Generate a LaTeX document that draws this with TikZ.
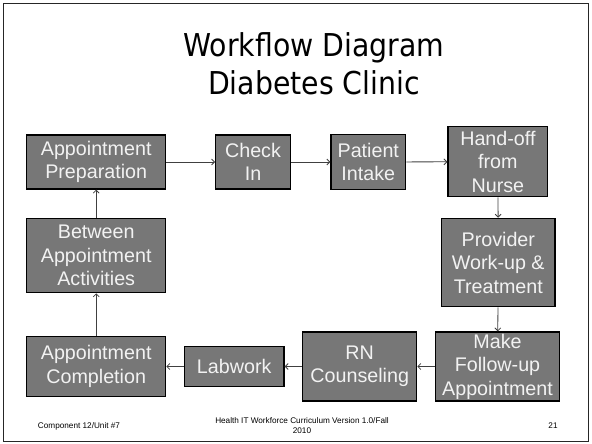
\documentclass[tikz,border=0pt]{standalone}
\usepackage{fontspec}
\setmainfont{Liberation Sans}
\newfontfamily\titlefont{DejaVu Sans Condensed}
\usetikzlibrary{arrows.meta, positioning}

\definecolor{stagefill}{HTML}{777777}
\definecolor{stagetext}{HTML}{F2F2F2}

\tikzset{
	stage/.style={draw=black, line width=1.2pt, fill=stagefill, text=stagetext, align=center, inner sep=0pt, font=\fontsize{19.7}{23.5}\selectfont},
	flow/.style={draw=black!75, line width=0.8pt, -{Straight Barb[length=3pt,width=6pt]}},
	foot/.style={font=\fontsize{8.2}{10}\selectfont, align=center}
}

\begin{document}
\begin{tikzpicture}[x=1pt, y=-1pt]
			\useasboundingbox (0,0) rectangle (592,444);
			\draw[line width=1.6pt, black!85] (3.5,3.5) rectangle (588.5,441.5);
			% title
			\node[anchor=base] (title) at (314,56.7) {\titlefont\fontsize{31.5}{38}\selectfont Workflow Diagram};
			\node[anchor=base] (subtitle) at (314,95) {\titlefont\fontsize{31.5}{38}\selectfont Diabetes Clinic};
			% top row
			\node[stage, minimum width=139pt, minimum height=54pt] (prep) at (96.2,162) {Appointment\\Preparation};
			\node[stage, minimum width=74.6pt, minimum height=54pt] (check) at (253,162) {Check\\In};
			\node[stage, minimum width=74.7pt, minimum height=55pt] (intake) at (368.3,162) {Patient\\Intake};
			\node[stage, minimum width=99.7pt, minimum height=70pt] (handoff) at (497.9,161.7) {Hand-off\\from\\Nurse};
			% right side
			\node[stage, minimum width=113.3pt, minimum height=88.4pt] (provider) at (498.3,262.5) {Provider\\Work-up \&\\Treatment};
			\node[stage, minimum width=123.6pt, minimum height=69pt] (followup) at (497.5,366.5) {Make\\Follow-up\\Appointment};
			% bottom row
			\node[stage, minimum width=114pt, minimum height=69pt] (counsel) at (359.7,366.5) {RN\\Counseling};
			\node[stage, minimum width=99.7pt, minimum height=40.4pt] (lab) at (234.2,366.5) {Labwork};
			\node[stage, minimum width=139pt, minimum height=60pt] (done) at (96.2,366.5) {Appointment\\Completion};
			% left side
			\node[stage, minimum width=139pt, minimum height=74.4pt] (between) at (96.2,255.5) {Between\\Appointment\\Activities};
			% connectors
			\draw[flow] (prep) -- (check);
			\draw[flow] (check) -- (intake);
			\draw[flow] (intake) -- (handoff);
			\draw[flow] (handoff) -- (provider);
			\draw[flow] (provider) -- (followup);
			\draw[flow] (followup) -- (counsel);
			\draw[flow] (counsel) -- (lab);
			\draw[flow] (lab) -- (done);
			\draw[flow] (done) -- (between);
			\draw[flow] (between) -- (prep);
			% footer
			\node[foot] (unit) at (79,426) {Component 12/Unit \#7};
			\node[foot] (version) at (302,425.7) {Health IT Workforce Curriculum Version 1.0/Fall\\2010};
			\node[foot] (page) at (553,426) {21};
\end{tikzpicture}
\end{document}
